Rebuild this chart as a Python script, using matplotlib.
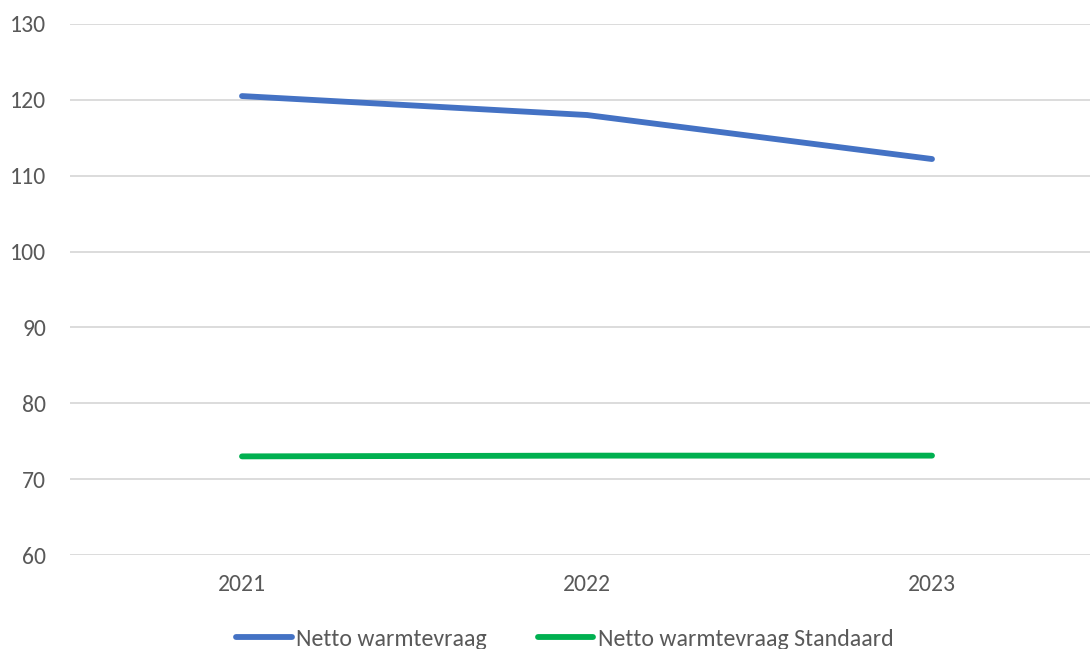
import matplotlib
matplotlib.use("Agg")
import matplotlib.pyplot as plt

years = ["2021", "2022", "2023"]
netto = [120.5, 118.0, 112.2]
standaard = [73.0, 73.1, 73.1]
series_names = ["Netto warmtevraag", "Netto warmtevraag Standaard"]
yticks = [60, 70, 80, 90, 100, 110, 120, 130]

plt.rcParams['font.family'] = ['Carlito', 'DejaVu Sans']

fig = plt.figure(figsize=(10.9, 6.49), dpi=100)
W, H = 1090, 649
ax = fig.add_axes([69.5 / W, 1 - 555 / H, (1104.5 - 69.5) / W, (555 - 24) / H])

x = list(range(len(years)))
ax.plot(x, netto, color="#4472C4", lw=4.2, solid_capstyle="round", label=series_names[0])
ax.plot(x, standaard, color="#00B050", lw=4.2, solid_capstyle="round", label=series_names[1])

ax.set_xlim(-0.5, len(years) - 0.5)
ax.set_ylim(60, 130)
ax.set_yticks(yticks)
ax.set_xticks(x)
ax.set_xticklabels(years)
ax.grid(axis="y", color="#D9D9D9", lw=1.3)
ax.set_axisbelow(True)
for s in ax.spines.values():
    s.set_visible(False)
ax.tick_params(axis="both", length=0, labelsize=17, labelcolor="#595959")
ax.tick_params(axis="y", pad=17)
ax.tick_params(axis="x", pad=14)

handles, labels = ax.get_legend_handles_labels()
fig.legend(handles, labels, loc="center left", bbox_to_anchor=(236 / W, 1 - 639 / H),
           ncol=2, frameon=False, fontsize=17.2, handlelength=2.34, handletextpad=0.17,
           columnspacing=2.13, borderpad=0, borderaxespad=0, labelcolor="#595959")

fig.savefig("out.png", dpi=100)
